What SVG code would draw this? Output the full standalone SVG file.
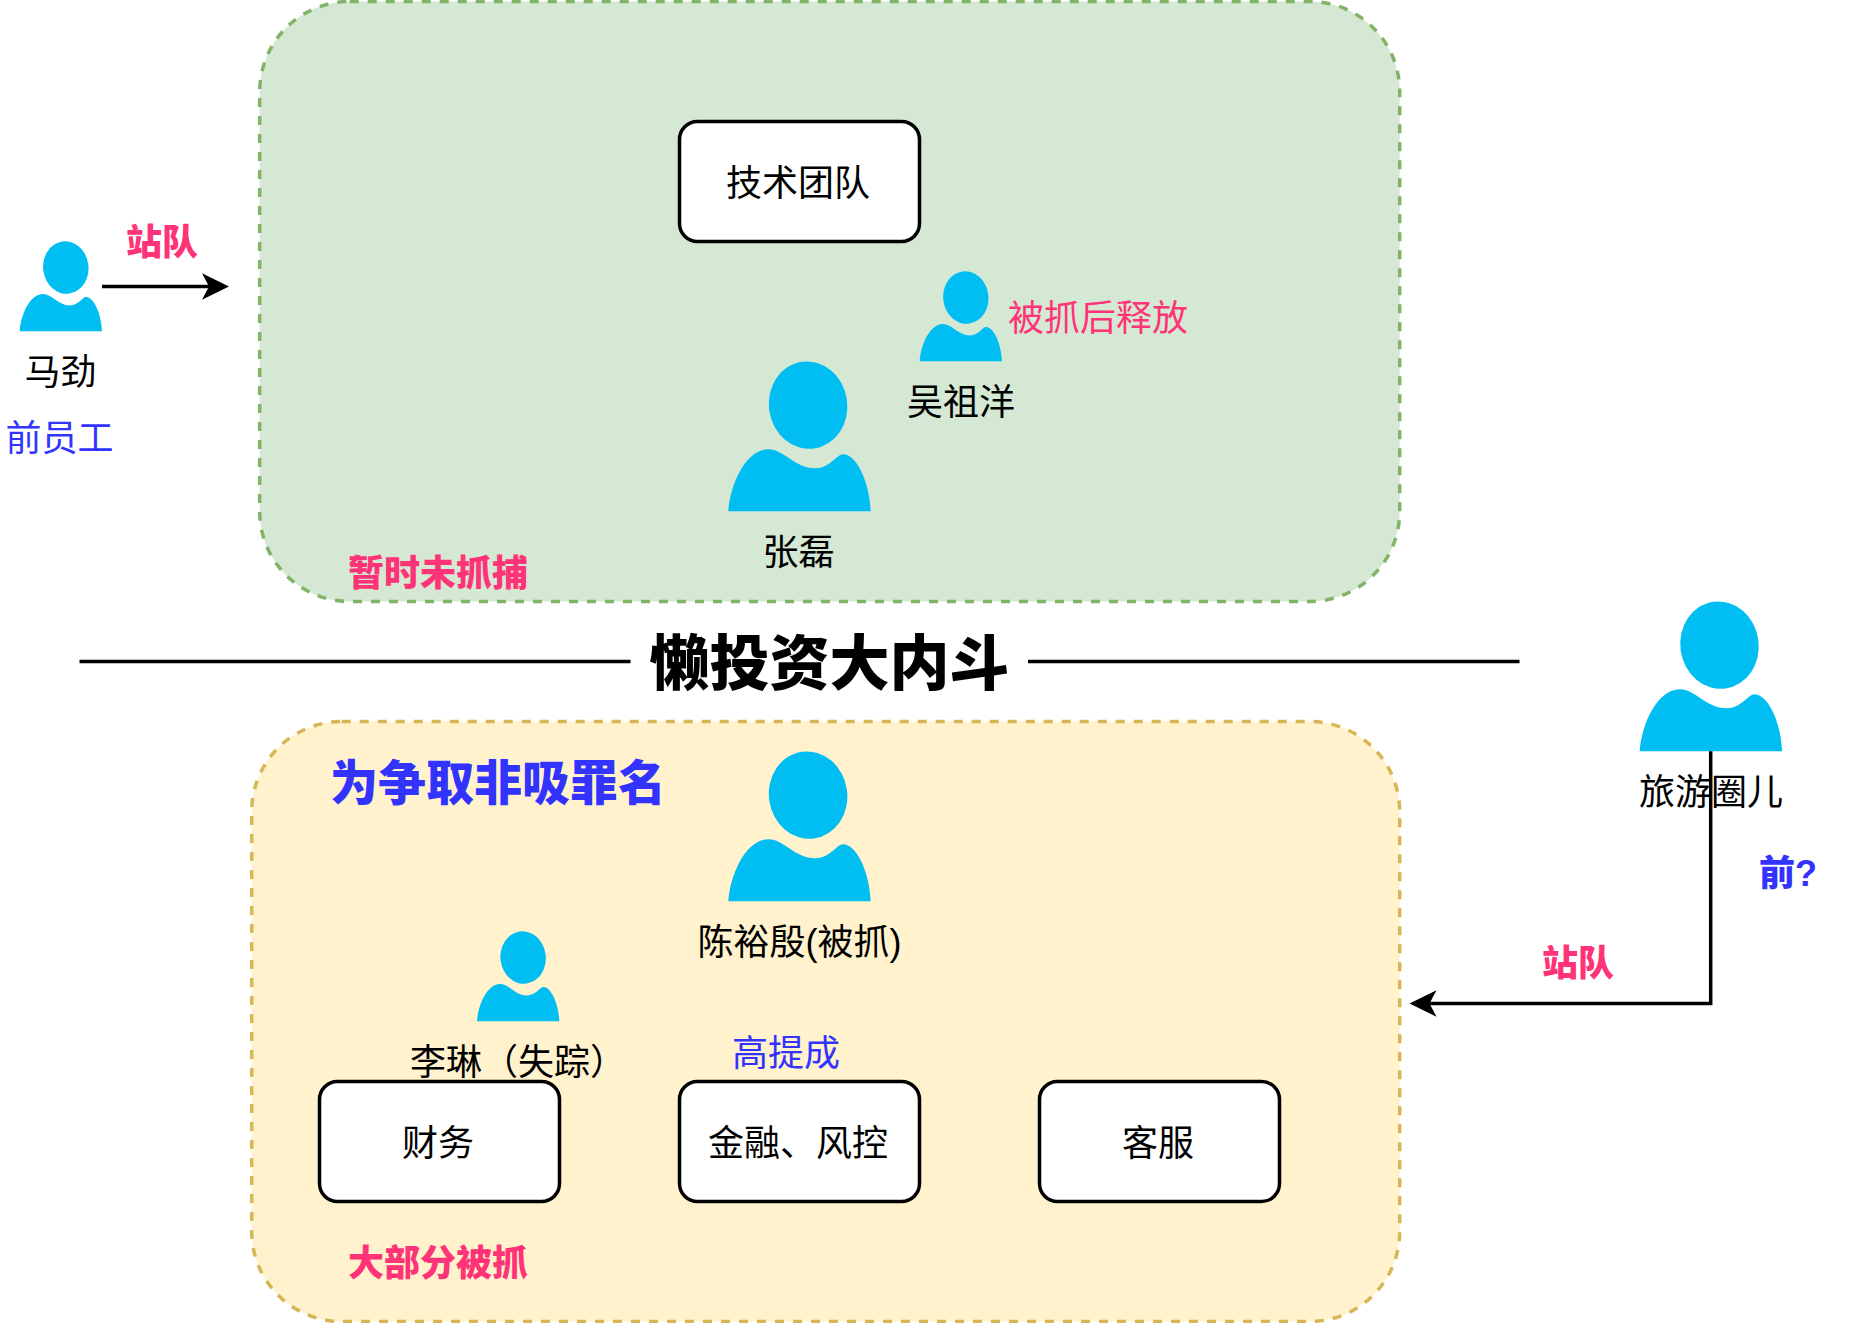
<svg xmlns="http://www.w3.org/2000/svg" width="1851" height="1323" viewBox="0 0 1851 1323">
<style>
text{font-family:"Liberation Sans","Noto Sans CJK SC",sans-serif;font-size:36px;fill:#000;text-anchor:middle}
.b{font-weight:900}
.pink{fill:#ff3377}
.blue{fill:#3333ff}
.box{fill:#fff;stroke:#000;stroke-width:3.5}
.person{fill:#00bef2}
.line{fill:none;stroke:#000;stroke-width:3.5}
</style>
<defs>
<g id="user"><ellipse cx="79.8" cy="43.8" rx="39.2" ry="43.8" transform="rotate(-8 79.8 43.8)"/><path d="M0 150C2 122 18 88 40 88C56 88 66 107 87 107C102 107 108 93 115 93C127 93 141 118 142.4 150Z"/></g>
<marker id="arrow" markerUnits="userSpaceOnUse" markerWidth="30" markerHeight="30" refX="10" refY="14" orient="auto"><path d="M0 .7L27 14L0 27.3L7 14Z" fill="#000"/></marker>
</defs>
<g id="group-green"><rect x="259.7" y="1.5" width="1140" height="600" rx="90" fill="#d5e8d4" stroke="#82b366" stroke-width="3.5" stroke-dasharray="9 9"/><text class="b pink" x="438" y="586">暂时未抓捕</text></g>
<g id="group-yellow"><rect x="251.7" y="721.5" width="1148" height="600" rx="90" fill="#fff2cc" stroke="#d6b656" stroke-width="3.5" stroke-dasharray="9 9"/><text class="b pink" x="438" y="1276">大部分被抓</text><text class="b blue" style="font-size:48px" x="498" y="799.5">为争取非吸罪名</text></g>
<g id="title"><path class="line" d="M79.5 661.5H630.5M1028 661.5H1519.5"/><text class="b" style="font-size:60px" x="829.5" y="685">懒投资大内斗</text></g>
<g id="tech"><rect class="box" x="679.5" y="121.5" width="240" height="120" rx="18"/><text x="798" y="196">技术团队</text></g>
<g id="p-majin"><use href="#user" class="person" transform="translate(19.7 241.3) scale(.578 .6)"/><text x="60.5" y="385">马劲</text><text class="blue" x="59.5" y="451">前员工</text></g>
<g id="p-wu"><use href="#user" class="person" transform="translate(919.7 271.3) scale(.578 .6)"/><text x="961" y="415">吴祖洋</text><text class="pink" x="1098" y="331">被抓后释放</text></g>
<g id="p-zhang"><use href="#user" class="person" transform="translate(728.3 361.3)"/><text x="798.5" y="565">张磊</text></g>
<g id="p-chen"><use href="#user" class="person" transform="translate(728.3 751.3)"/><text x="799.5" y="955">陈裕殷(被抓)</text></g>
<g id="p-li"><use href="#user" class="person" transform="translate(477 931.3) scale(.578 .6)"/><text x="518" y="1075">李琳（失踪）</text></g>
<g id="finance"><rect class="box" x="319.5" y="1081.5" width="240" height="120" rx="18"/><text x="438" y="1156">财务</text></g>
<g id="risk"><rect class="box" x="679.5" y="1081.5" width="240" height="120" rx="18"/><text x="798" y="1156">金融、风控</text><text class="blue" x="786" y="1066">高提成</text></g>
<g id="service"><rect class="box" x="1039.5" y="1081.5" width="240" height="120" rx="18"/><text x="1158" y="1156">客服</text></g>
<g id="p-travel"><use href="#user" class="person" transform="translate(1639.7 601.3)"/><text x="1711" y="805">旅游圈儿</text><text class="b blue" x="1788" y="886">前?</text></g>
<g id="connectors">
<path class="line" d="M102 286.5H212" marker-end="url(#arrow)"/>
<text class="b pink" x="162" y="255">站队</text>
<path class="line" d="M1710.7 751.3V1003.5H1426.5" marker-end="url(#arrow)"/>
<text class="b pink" x="1578" y="976">站队</text>
</g>
</svg>
